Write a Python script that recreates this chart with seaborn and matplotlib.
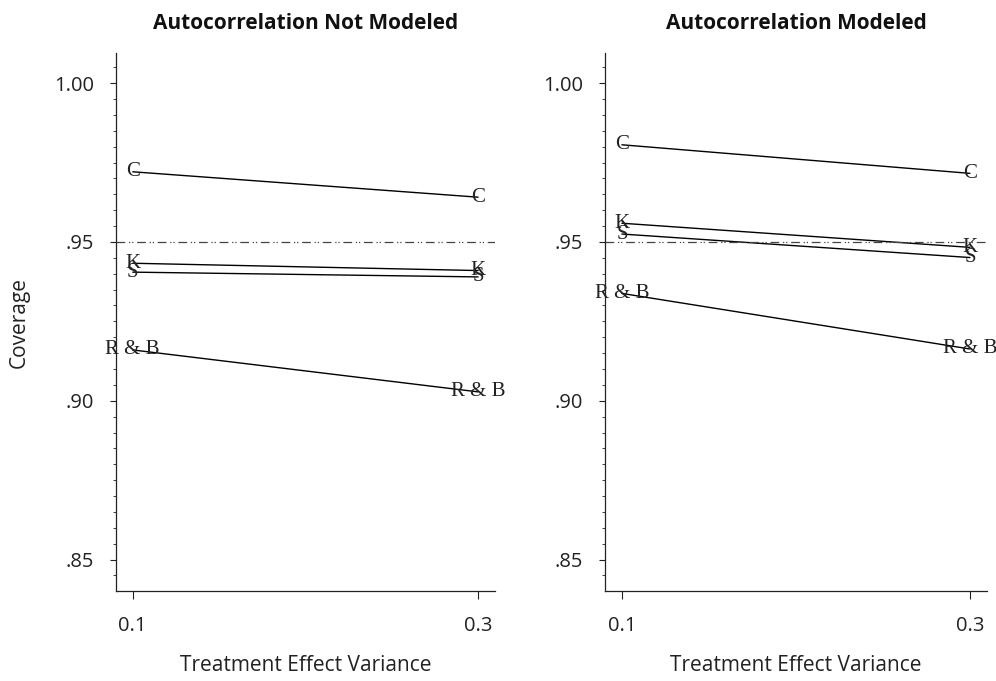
import matplotlib
matplotlib.use("Agg")
import matplotlib.pyplot as plt
import seaborn as sns
import pandas as pd
from matplotlib.ticker import MultipleLocator, FixedLocator

# ---- data ----
x_values = [0.1, 0.3]
series = ["C", "K", "S", "R & B"]
not_modeled_C = [0.9721, 0.9641]
not_modeled_K = [0.9433, 0.9410]
not_modeled_S = [0.9405, 0.9390]
not_modeled_RB = [0.9160, 0.9028]
modeled_C = [0.9806, 0.9716]
modeled_K = [0.9559, 0.9483]
modeled_S = [0.9525, 0.9451]
modeled_RB = [0.9338, 0.9163]
panel_titles = ["Autocorrelation Not Modeled", "Autocorrelation Modeled"]
y_ticks = [0.85, 0.90, 0.95, 1.00]
y_ticklabels = [".85", ".90", ".95", "1.00"]
x_ticklabels = ["0.1", "0.3"]
reference_level = 0.95

def long_frame(c, k, s, rb):
    rows = []
    for name, vals in zip(series, [c, k, s, rb]):
        for xv, yv in zip(x_values, vals):
            rows.append({"x": xv, "y": yv, "series": name})
    return pd.DataFrame(rows)

frames = [long_frame(not_modeled_C, not_modeled_K, not_modeled_S, not_modeled_RB),
          long_frame(modeled_C, modeled_K, modeled_S, modeled_RB)]

sns.set_style("ticks")
plt.rcParams["font.family"] = ["Open Sans", "DejaVu Sans"]

fig = plt.figure(figsize=(9.96, 6.81), dpi=100)
W, H = 996, 681
boxes = [(116, 495), (605, 987)]
top_px, bot_px = 53, 591

for i, (df, (x0, x1)) in enumerate(zip(frames, boxes)):
    ax = fig.add_axes([x0 / W, 1 - bot_px / H, (x1 - x0) / W, (bot_px - top_px) / H])
    sns.lineplot(data=df, x="x", y="y", units="series", estimator=None,
                 color="black", linewidth=1.0, ax=ax, legend=False)
    for _, r in df.iterrows():
        ax.text(r["x"], r["y"], r["series"], ha="center", va="center",
                family=["Liberation Serif"], fontsize=15, color="#222222")
    ax.axhline(reference_level, color="#444444", linewidth=0.9,
               linestyle=(0, (7, 3, 1, 1.5, 1, 3)))
    ax.set_xlim(0.0903, 0.3098)
    ax.set_ylim(0.8401, 1.0095)
    ax.xaxis.set_major_locator(FixedLocator(x_values))
    ax.set_xticklabels(x_ticklabels)
    ax.yaxis.set_major_locator(FixedLocator(y_ticks))
    ax.set_yticklabels(y_ticklabels)
    ax.yaxis.set_minor_locator(MultipleLocator(0.005))
    ax.tick_params(axis="y", which="major", length=4, width=0.8, pad=12, labelsize=14.5, colors="#222222")
    ax.tick_params(axis="y", which="minor", length=2, width=0.6, colors="#222222")
    ax.tick_params(axis="x", which="major", length=6, width=0.8, pad=12, labelsize=14.5, colors="#222222")
    for side in ["top", "right"]:
        ax.spines[side].set_visible(False)
    for side in ["left", "bottom"]:
        ax.spines[side].set_linewidth(0.9)
        ax.spines[side].set_color("#222222")
    ax.set_xlabel("Treatment Effect Variance", fontsize=15, labelpad=14, color="#222222")
    if i == 0:
        ax.set_ylabel("Coverage", fontsize=15, labelpad=17, color="#222222")
    else:
        ax.set_ylabel("")
    ax.set_title(panel_titles[i], fontsize=15, fontweight="bold", pad=17, color="#111111")

fig.savefig("out.png", dpi=100)
